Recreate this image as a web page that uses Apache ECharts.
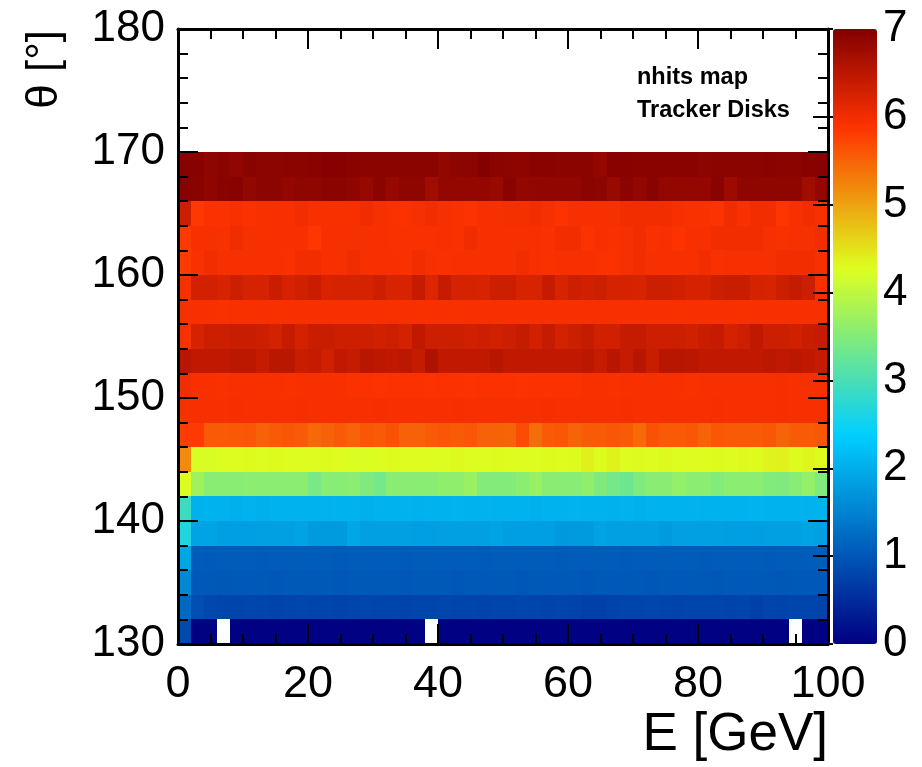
<!DOCTYPE html>
<html>
<head>
<meta charset="utf-8">
<script src="https://cdn.jsdelivr.net/npm/echarts@6/dist/echarts.min.js"></script>
<style>
  html, body { margin: 0; padding: 0; background: #fff; }
  #chart { width: 922px; height: 767px; }
</style>
</head>
<body>
<div id="chart"></div>
<script>
// Binning of the 2D histogram: E in 2 GeV bins, theta in 2 degree bins
const eBinWidth = 2;
const thetaBinWidth = 2;

// Axis tick labels
const eTicks = [0, 20, 40, 60, 80, 100];
const thetaTicks = [130, 140, 150, 160, 170, 180];
const zTicks = [0, 1, 2, 3, 4, 5, 6, 7];

// Lower edge of each theta row
const thetaLow = [130, 132, 134, 136, 138, 140, 142, 144, 146, 148,
                  150, 152, 154, 156, 158, 160, 162, 164, 166, 168];

// Mean number of hits per (E, theta) bin, one array per theta row (50 E bins each)
const nhits130 = [0.85, 0.03, 0.03, 0, 0.03, 0.03, 0.03, 0.03, 0.03, 0.03,
                  0.03, 0.03, 0.03, 0.03, 0.03, 0.03, 0.03, 0.03, 0.03, 0,
                  0.03, 0.03, 0.03, 0.03, 0.03, 0.03, 0.03, 0.03, 0.03, 0.03,
                  0.03, 0.03, 0.03, 0.03, 0.03, 0.03, 0.03, 0.03, 0.03, 0.03,
                  0.03, 0.03, 0.03, 0.03, 0.03, 0.03, 0.03, 0, 0.03, 0.03];
const nhits132 = [1.22, 0.90, 0.83, 0.80, 0.80, 0.81, 0.80, 0.79, 0.80, 0.81,
                  0.80, 0.80, 0.79, 0.80, 0.81, 0.80, 0.80, 0.79, 0.80, 0.80,
                  0.81, 0.80, 0.80, 0.79, 0.80, 0.80, 0.81, 0.80, 0.79, 0.80,
                  0.78, 0.74, 0.74, 0.79, 0.80, 0.80, 0.81, 0.80, 0.79, 0.80,
                  0.80, 0.80, 0.79, 0.80, 0.74, 0.80, 0.79, 0.80, 0.80, 0.79];
const nhits134 = [1.56, 1.02, 1.01, 1.00, 1.01, 1.02, 1.01, 1.00, 1.01, 1.02,
                  1.01, 1.01, 1.00, 1.01, 1.02, 1.01, 1.01, 1.00, 1.01, 1.02,
                  1.01, 1.00, 1.01, 1.02, 1.01, 1.01, 1.00, 1.01, 1.02, 1.01,
                  1.01, 1.00, 1.01, 1.02, 1.01, 1.01, 1.00, 1.01, 1.02, 1.01,
                  1.01, 1.00, 1.01, 1.02, 1.01, 1.01, 1.00, 1.01, 1.02, 1.03];
const nhits136 = [1.93, 1.06, 1.04, 1.06, 1.05, 1.06, 1.04, 1.06, 1.05, 1.06,
                  1.06, 1.05, 1.04, 1.06, 1.05, 1.06, 1.06, 1.04, 1.05, 1.06,
                  1.06, 1.05, 1.06, 1.04, 1.05, 1.06, 1.06, 1.05, 1.06, 1.04,
                  1.05, 1.06, 1.05, 1.06, 1.04, 1.05, 1.06, 1.05, 1.06, 1.05,
                  1.04, 1.06, 1.05, 1.06, 1.05, 1.04, 1.06, 1.05, 1.06, 1.09];
const nhits138 = [2.64, 1.89, 1.89, 1.82, 1.82, 1.82, 1.84, 1.84, 1.84, 1.89,
                  1.77, 1.77, 1.77, 1.93, 1.84, 1.84, 1.84, 1.84, 1.82, 1.82,
                  1.84, 1.84, 1.84, 1.84, 1.89, 1.82, 1.82, 1.82, 1.82, 1.75,
                  1.77, 1.77, 1.89, 1.84, 1.84, 1.84, 1.84, 1.77, 1.84, 1.84,
                  1.84, 1.84, 1.82, 1.82, 1.82, 1.84, 1.84, 1.84, 1.89, 1.84];
const nhits140 = [2.89, 2.04, 2.05, 2.05, 2.03, 2.05, 2.02, 2.05, 2.06, 2.05,
                  2.05, 2.04, 2.06, 2.05, 2.03, 2.05, 2.06, 2.05, 2.04, 2.05,
                  2.06, 2.07, 2.05, 2.05, 2.04, 2.06, 2.05, 2.03, 2.05, 2.05,
                  2.07, 2.06, 2.05, 2.04, 2.05, 2.03, 2.05, 2.06, 2.05, 2.05,
                  2.04, 2.06, 2.05, 2.05, 2.07, 2.05, 2.06, 2.05, 2.04, 2.06];
const nhits142 = [4.27, 3.74, 3.55, 3.55, 3.54, 3.57, 3.57, 3.57, 3.57, 3.57,
                  3.40, 3.54, 3.54, 3.57, 3.47, 3.37, 3.55, 3.55, 3.55, 3.55,
                  3.61, 3.61, 3.69, 3.50, 3.50, 3.50, 3.57, 3.69, 3.55, 3.54,
                  3.54, 3.61, 3.47, 3.37, 3.32, 3.47, 3.55, 3.55, 3.64, 3.57,
                  3.57, 3.50, 3.57, 3.57, 3.57, 3.50, 3.47, 3.54, 3.64, 3.47];
const nhits144 = [5.19, 4.22, 4.22, 4.27, 4.28, 4.30, 4.27, 4.30, 4.28, 4.27,
                  4.29, 4.30, 4.27, 4.24, 4.24, 4.28, 4.30, 4.27, 4.29, 4.27,
                  4.28, 4.32, 4.27, 4.28, 4.30, 4.29, 4.27, 4.28, 4.30, 4.27,
                  4.30, 4.40, 4.30, 4.38, 4.28, 4.30, 4.27, 4.32, 4.28, 4.27,
                  4.29, 4.30, 4.28, 4.32, 4.30, 4.36, 4.38, 4.30, 4.34, 4.30];
const nhits146 = [5.82, 5.83, 5.57, 5.57, 5.58, 5.60, 5.52, 5.57, 5.60, 5.57,
                  5.46, 5.52, 5.57, 5.49, 5.60, 5.57, 5.63, 5.52, 5.52, 5.57,
                  5.60, 5.57, 5.60, 5.52, 5.52, 5.49, 5.68, 5.42, 5.57, 5.60,
                  5.49, 5.57, 5.57, 5.60, 5.57, 5.44, 5.63, 5.57, 5.57, 5.60,
                  5.49, 5.60, 5.57, 5.57, 5.57, 5.60, 5.49, 5.57, 5.57, 5.60];
const nhits148 = [5.95, 5.96, 5.95, 5.96, 5.97, 5.96, 5.95, 5.96, 5.96, 5.97,
                  5.96, 5.95, 5.96, 5.96, 5.95, 5.97, 5.96, 5.96, 5.95, 5.96,
                  5.96, 5.97, 5.96, 5.95, 5.96, 5.96, 5.95, 5.96, 5.97, 5.96,
                  5.96, 5.95, 5.96, 5.96, 5.97, 5.96, 5.95, 5.96, 5.96, 5.95,
                  5.96, 5.97, 5.96, 5.96, 5.95, 5.96, 5.97, 5.96, 5.96, 5.96];
const nhits150 = [6.00, 5.94, 5.94, 5.93, 5.94, 5.95, 5.94, 5.94, 5.93, 5.94,
                  5.95, 5.94, 5.94, 5.92, 5.92, 5.91, 5.92, 5.92, 5.92, 5.91,
                  5.92, 5.92, 5.91, 5.92, 5.92, 5.92, 5.91, 5.92, 5.92, 5.92,
                  5.92, 5.94, 5.94, 5.93, 5.94, 5.94, 5.95, 5.94, 5.94, 5.93,
                  5.94, 5.96, 5.96, 5.95, 5.96, 5.96, 5.97, 5.96, 5.96, 5.96];
const nhits152 = [6.52, 6.44, 6.44, 6.44, 6.48, 6.48, 6.40, 6.50, 6.50, 6.37,
                  6.40, 6.30, 6.44, 6.40, 6.52, 6.48, 6.44, 6.48, 6.40, 6.59,
                  6.44, 6.44, 6.44, 6.44, 6.52, 6.44, 6.44, 6.44, 6.44, 6.44,
                  6.44, 6.48, 6.40, 6.52, 6.40, 6.52, 6.37, 6.52, 6.52, 6.50,
                  6.44, 6.44, 6.44, 6.44, 6.44, 6.48, 6.44, 6.48, 6.44, 6.40];
const nhits154 = [5.94, 6.26, 6.34, 6.34, 6.37, 6.37, 6.34, 6.27, 6.40, 6.27,
                  6.37, 6.37, 6.34, 6.34, 6.34, 6.30, 6.34, 6.27, 6.44, 6.34,
                  6.34, 6.34, 6.30, 6.34, 6.30, 6.34, 6.40, 6.30, 6.40, 6.27,
                  6.34, 6.40, 6.30, 6.30, 6.40, 6.40, 6.34, 6.34, 6.34, 6.30,
                  6.37, 6.40, 6.27, 6.34, 6.44, 6.34, 6.34, 6.30, 6.37, 6.40];
const nhits156 = [5.96, 5.94, 5.94, 5.93, 5.94, 5.94, 5.95, 5.94, 5.94, 5.96,
                  5.96, 5.95, 5.96, 5.96, 5.95, 5.96, 5.94, 5.95, 5.94, 5.94,
                  5.95, 5.94, 5.96, 5.95, 5.95, 5.94, 5.95, 5.96, 5.95, 5.94,
                  5.95, 5.96, 5.95, 5.95, 5.94, 5.95, 5.96, 5.95, 5.94, 5.94,
                  5.95, 5.96, 5.95, 5.94, 5.95, 5.95, 5.96, 5.95, 5.96, 5.95];
const nhits158 = [5.94, 6.28, 6.28, 6.23, 6.34, 6.26, 6.26, 6.37, 6.25, 6.30,
                  6.36, 6.22, 6.26, 6.26, 6.26, 6.34, 6.23, 6.23, 6.40, 6.18,
                  6.40, 6.26, 6.26, 6.22, 6.34, 6.34, 6.23, 6.23, 6.40, 6.23,
                  6.34, 6.30, 6.34, 6.26, 6.26, 6.23, 6.34, 6.34, 6.30, 6.25,
                  6.26, 6.34, 6.37, 6.37, 6.26, 6.23, 6.34, 6.40, 6.34, 5.94];
const nhits160 = [5.83, 5.93, 6.00, 5.96, 5.96, 5.96, 5.96, 5.96, 5.93, 6.00,
                  6.00, 5.96, 5.96, 6.02, 5.96, 5.96, 5.96, 5.93, 6.00, 5.96,
                  5.93, 5.96, 5.96, 5.96, 5.96, 5.96, 6.00, 5.96, 5.93, 5.96,
                  5.96, 5.96, 5.93, 5.92, 5.96, 6.00, 5.96, 5.96, 5.96, 5.94,
                  6.00, 5.93, 5.96, 5.96, 5.96, 5.96, 6.00, 6.00, 6.00, 5.96];
const nhits162 = [5.84, 5.94, 5.95, 5.93, 6.01, 5.96, 5.94, 5.96, 5.96, 5.94,
                  5.86, 5.94, 5.96, 5.96, 5.96, 5.96, 5.93, 5.93, 5.93, 5.93,
                  5.96, 5.93, 6.01, 5.94, 5.94, 5.94, 5.96, 5.96, 5.93, 6.00,
                  6.00, 5.91, 5.96, 5.93, 5.96, 6.00, 5.93, 5.96, 5.91, 5.96,
                  5.94, 6.00, 6.00, 6.00, 6.00, 5.96, 5.93, 5.96, 5.96, 6.00];
const nhits164 = [6.34, 5.84, 5.92, 5.92, 5.94, 5.92, 5.94, 5.96, 5.94, 6.00,
                  5.94, 5.94, 5.94, 5.94, 6.01, 5.96, 5.93, 5.92, 5.96, 6.00,
                  5.96, 5.93, 5.91, 5.96, 5.96, 5.98, 5.98, 6.00, 5.96, 5.91,
                  5.96, 5.96, 5.96, 5.96, 6.00, 6.00, 6.00, 6.00, 5.96, 5.93,
                  5.93, 5.91, 6.01, 5.93, 6.00, 6.00, 5.87, 5.94, 6.00, 5.96];
const nhits166 = [6.96, 6.94, 6.88, 6.94, 6.96, 6.86, 6.90, 6.90, 6.84, 6.88,
                  6.88, 6.91, 6.91, 6.88, 6.82, 6.91, 6.82, 6.88, 6.88, 6.73,
                  6.85, 6.85, 6.85, 6.85, 6.80, 6.93, 6.84, 6.87, 6.87, 6.87,
                  6.87, 6.91, 6.90, 6.80, 6.91, 6.84, 6.94, 6.85, 6.85, 6.85,
                  6.84, 6.94, 6.76, 6.88, 6.88, 6.88, 6.88, 6.88, 6.74, 6.84];
const nhits168 = [6.96, 6.95, 6.88, 6.92, 6.87, 6.94, 6.90, 6.90, 6.92, 6.92,
                  6.94, 6.97, 6.97, 6.93, 6.92, 6.92, 6.92, 6.92, 6.91, 6.91,
                  6.86, 6.90, 6.90, 6.98, 6.91, 6.89, 6.89, 6.94, 6.94, 6.92,
                  6.91, 6.91, 6.85, 6.96, 6.96, 6.93, 6.93, 6.93, 6.93, 6.93,
                  6.90, 6.92, 6.92, 6.92, 6.92, 6.93, 6.92, 6.92, 6.96, 6.96];

const nhitsRows = [nhits130, nhits132, nhits134, nhits136, nhits138,
                   nhits140, nhits142, nhits144, nhits146, nhits148,
                   nhits150, nhits152, nhits154, nhits156, nhits158,
                   nhits160, nhits162, nhits164, nhits166, nhits168];

// Colour palette (dark blue -> cyan -> yellow -> red -> dark red)
const paletteStops = [0.00, 0.34, 0.61, 0.84, 1.00];
const paletteRed   = [0.00, 0.00, 0.87, 1.00, 0.51];
const paletteGreen = [0.00, 0.81, 1.00, 0.20, 0.00];
const paletteBlue  = [0.51, 1.00, 0.12, 0.00, 0.00];

function paletteColors(n) {
  const out = [];
  for (let i = 0; i < n; i++) {
    const f = i / (n - 1);
    let k = 0;
    while (k < paletteStops.length - 2 && f > paletteStops[k + 1]) k++;
    const t = (f - paletteStops[k]) / (paletteStops[k + 1] - paletteStops[k]);
    const mix = (arr) => Math.round(255 * (arr[k] + (arr[k + 1] - arr[k]) * t));
    out.push('rgb(' + mix(paletteRed) + ',' + mix(paletteGreen) + ',' + mix(paletteBlue) + ')');
  }
  return out;
}

// Cells: [E low edge, theta low edge, nhits]; empty bins are not drawn
const cells = [];
nhitsRows.forEach((row, i) => {
  row.forEach((v, j) => {
    if (v > 0) cells.push([j * eBinWidth, thetaLow[i], v]);
  });
});

const FONT = 'Liberation Sans, Arial, Helvetica, sans-serif';
const black = '#000';

function frameAxis(extra) {
  return Object.assign({
    type: 'value',
    z: 5,
    axisLine: { show: true, onZero: false, lineStyle: { color: black, width: 3 } },
    axisTick: { show: true, inside: true, length: 20, lineStyle: { color: black, width: 2 } },
    minorTick: { show: true, length: 10, lineStyle: { color: black, width: 2 } },
    splitLine: { show: false },
    axisLabel: { show: false }
  }, extra);
}

const chart = echarts.init(document.getElementById('chart'), null, { renderer: 'canvas' });

chart.setOption({
  animation: false,
  backgroundColor: '#fff',
  grid: [
    { left: 178, top: 29, width: 650, height: 615, containLabel: false },
    { left: 833, top: 29, width: 44, height: 615, containLabel: false }
  ],
  xAxis: [
    frameAxis({
      gridIndex: 0, position: 'bottom',
      min: eTicks[0], max: eTicks[eTicks.length - 1], interval: eTicks[1] - eTicks[0],
      minorTick: { show: true, splitNumber: 4, length: 10, lineStyle: { color: black, width: 2 } },
      axisLabel: { show: true, margin: 18, fontSize: 45, fontFamily: FONT, color: black,
                   showMinLabel: true, showMaxLabel: true }
    }),
    frameAxis({
      gridIndex: 0, position: 'top',
      min: eTicks[0], max: eTicks[eTicks.length - 1], interval: eTicks[1] - eTicks[0],
      minorTick: { show: true, splitNumber: 4, length: 10, lineStyle: { color: black, width: 2 } }
    }),
    { type: 'value', gridIndex: 1, min: 0, max: 1, show: false }
  ],
  yAxis: [
    frameAxis({
      gridIndex: 0, position: 'left',
      min: thetaTicks[0], max: thetaTicks[thetaTicks.length - 1], interval: thetaTicks[1] - thetaTicks[0],
      minorTick: { show: true, splitNumber: 5, length: 10, lineStyle: { color: black, width: 2 } },
      axisLabel: { show: true, margin: 13, fontSize: 44, fontFamily: FONT, color: black,
                   showMinLabel: true, showMaxLabel: true }
    }),
    frameAxis({
      gridIndex: 0, position: 'right',
      min: thetaTicks[0], max: thetaTicks[thetaTicks.length - 1], interval: thetaTicks[1] - thetaTicks[0],
      minorTick: { show: true, splitNumber: 5, length: 10, lineStyle: { color: black, width: 2 } }
    }),
    {
      type: 'value', gridIndex: 1, position: 'right', z: 10,
      min: zTicks[0], max: zTicks[zTicks.length - 1], interval: 1,
      axisLine: { show: false },
      axisTick: { show: true, inside: true, length: 20, lineStyle: { color: black, width: 2 } },
      splitLine: { show: false },
      axisLabel: { show: true, margin: 6, fontSize: 44, fontFamily: FONT, color: black,
                   showMinLabel: true, showMaxLabel: true }
    }
  ],
  visualMap: {
    type: 'continuous',
    seriesIndex: 0,
    dimension: 2,
    min: zTicks[0],
    max: zTicks[zTicks.length - 1],
    orient: 'vertical',
    left: 833,
    top: 29,
    itemWidth: 44,
    itemHeight: 615,
    padding: 0,
    calculable: false,
    hoverLink: false,
    realtime: false,
    inRange: { color: paletteColors(141) }
  },
  series: [{
    type: 'custom',
    name: 'nhits',
    xAxisIndex: 0,
    yAxisIndex: 0,
    clip: true,
    encode: { x: 0, y: 1 },
    data: cells,
    renderItem: function (params, api) {
      const e0 = api.value(0);
      const t0 = api.value(1);
      const topLeft = api.coord([e0, t0 + thetaBinWidth]);
      const bottomRight = api.coord([e0 + eBinWidth, t0]);
      const x0 = Math.round(topLeft[0]);
      const y0 = Math.round(topLeft[1]);
      const x1 = Math.round(bottomRight[0]);
      const y1 = Math.round(bottomRight[1]);
      return {
        type: 'rect',
        shape: { x: x0, y: y0, width: x1 - x0, height: y1 - y0 },
        style: { fill: api.visual('color') }
      };
    }
  }],
  graphic: [
    {
      type: 'text', x: 45, y: 30, rotation: Math.PI / 2,
      style: { text: 'θ [°]', font: '44px ' + FONT, fill: black,
               align: 'right', verticalAlign: 'middle' }
    },
    {
      type: 'text', x: 828, y: 762,
      style: { text: 'E [GeV]', font: '53px ' + FONT, fill: black,
               align: 'right', verticalAlign: 'bottom' }
    },
    {
      type: 'text', x: 637, y: 78,
      style: { text: 'nhits map', font: 'bold 23.5px ' + FONT, fill: black,
               align: 'left', verticalAlign: 'middle' }
    },
    {
      type: 'text', x: 637, y: 111,
      style: { text: 'Tracker Disks', font: 'bold 23.5px ' + FONT, fill: black,
               align: 'left', verticalAlign: 'middle' }
    }
  ]
});
</script>
</body>
</html>
